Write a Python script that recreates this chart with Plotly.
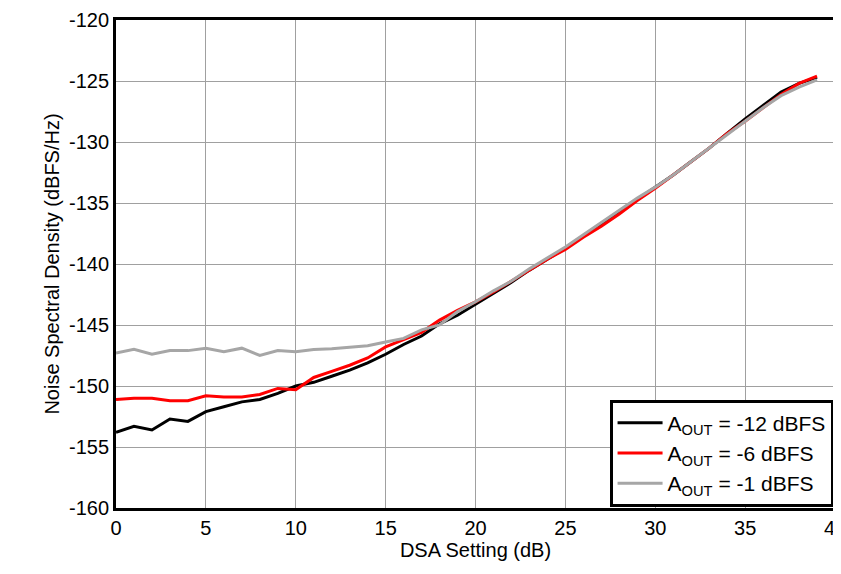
import plotly.graph_objects as go

x = list(range(40))
black = [-153.8, -153.3, -153.6, -152.7, -152.9, -152.1, -151.7, -151.3, -151.1, -150.6,
         -150.0, -149.7, -149.2, -148.7, -148.1, -147.4, -146.6, -145.9, -144.9, -144.2,
         -143.3, -142.4, -141.5, -140.5, -139.6, -138.7, -137.7, -136.7, -135.7, -134.7,
         -133.7, -132.7, -131.6, -130.5, -129.3, -128.1, -127.0, -125.9, -125.2, -124.7]
red = [-151.1, -151.0, -151.0, -151.2, -151.2, -150.8, -150.9, -150.9, -150.7, -150.2,
       -150.3, -149.3, -148.8, -148.3, -147.7, -146.8, -146.2, -145.6, -144.6, -143.8,
       -143.1, -142.3, -141.4, -140.5, -139.6, -138.8, -137.8, -136.9, -135.9, -134.8,
       -133.8, -132.7, -131.6, -130.5, -129.3, -128.3, -127.2, -126.1, -125.2, -124.6]
gray = [-147.3, -147.0, -147.4, -147.1, -147.1, -146.9, -147.2, -146.9, -147.5, -147.1,
        -147.2, -147.0, -146.95, -146.8, -146.7, -146.4, -146.1, -145.4, -145.0, -143.9,
        -143.1, -142.2, -141.4, -140.4, -139.5, -138.6, -137.6, -136.6, -135.6, -134.6,
        -133.7, -132.7, -131.6, -130.5, -129.4, -128.3, -127.2, -126.2, -125.5, -124.9]
names = ["A<sub>OUT</sub> = -12 dBFS", "A<sub>OUT</sub> = -6 dBFS", "A<sub>OUT</sub> = -1 dBFS"]
xticks = list(range(0, 45, 5))
yticks = list(range(-160, -115, 5))

fig = go.Figure()
for ys, c, n in [(black, "black", names[0]), (red, "#ff0000", names[1]), (gray, "#a6a6a6", names[2])]:
    fig.add_trace(go.Scatter(x=x, y=ys, mode="lines", name=n, line=dict(color=c, width=3)))

ax = dict(showgrid=True, gridcolor="#a0a0a0", gridwidth=1, showline=True, linecolor="black",
          linewidth=3, mirror=True, ticks="", zeroline=False, automargin=False,
          tickfont=dict(size=20, color="black"), title_font=dict(size=20, color="black"))
fig.update_xaxes(ax, range=[0, 40], tickvals=xticks, ticktext=[str(v) for v in xticks],
                 title_text="DSA Setting (dB)", title_standoff=2)
fig.update_yaxes(ax, range=[-160, -120], tickvals=yticks, ticktext=[str(v) for v in yticks],
                 title_text="Noise Spectral Density (dBFS/Hz)", title_standoff=4)
fig.update_layout(
    width=841, height=574, plot_bgcolor="white", paper_bgcolor="white",
    font=dict(family="Liberation Sans, Arial", color="black"),
    margin=dict(l=108, r=14, t=12, b=74),
    legend=dict(x=0.998, y=0.003, xanchor="right", yanchor="bottom", bordercolor="black",
                borderwidth=3, bgcolor="white", font=dict(size=21), tracegroupgap=0,
                itemwidth=45),
)
fig.write_html("out.html")
